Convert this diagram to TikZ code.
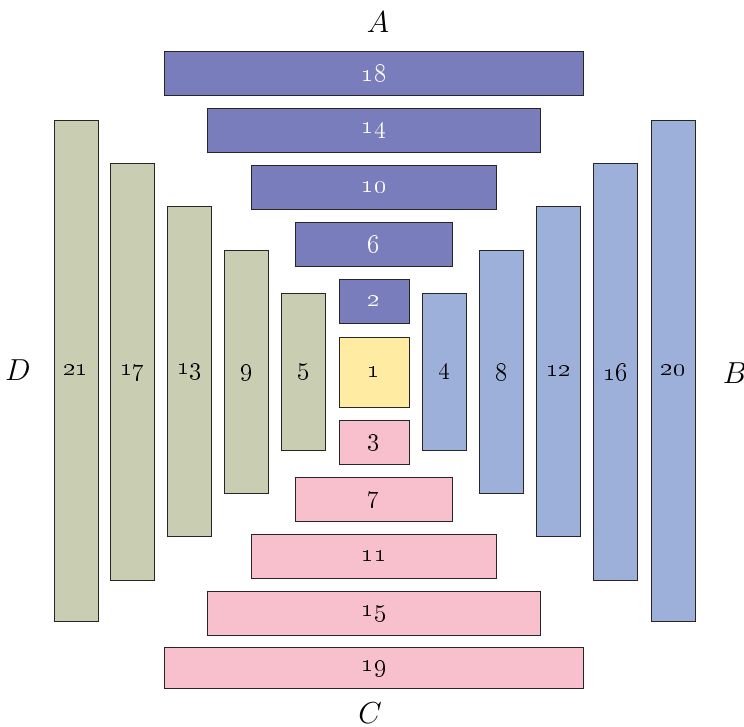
\documentclass[tikz,border=0pt]{standalone}
\usetikzlibrary{positioning}

\definecolor{topcol}{RGB}{122,125,188}
\definecolor{botcol}{RGB}{248,192,205}
\definecolor{rightcol}{RGB}{156,176,218}
\definecolor{leftcol}{RGB}{201,206,178}
\definecolor{corecol}{RGB}{255,235,162}

\tikzset{
  blk/.style = {draw=black!85, line width=0.5pt, inner sep=0pt, outer sep=0pt,
                font=\fontsize{15.5}{18}\selectfont},
  topbox/.style = {blk, fill=topcol, text=white, minimum height=0.88cm},
  botbox/.style = {blk, fill=botcol, minimum height=0.88cm},
  rightbox/.style = {blk, fill=rightcol, minimum width=0.88cm},
  leftbox/.style = {blk, fill=leftcol, minimum width=0.88cm},
  corebox/.style = {blk, fill=corecol, minimum width=1.4cm, minimum height=1.4cm},
  side/.style = {font=\fontsize{17}{20}\selectfont}
}

\begin{document}
\begin{tikzpicture}
    \useasboundingbox (0,0) rectangle (14.88,-14.54);

    % core
    \node (b1) [corebox] at (7.48,-7.44) {\oldstylenums{1}};

    % top row
    \node (b2)  [topbox, minimum width=1.4cm]  at (7.48,-6.03) {\oldstylenums{2}};
    \node (b6)  [topbox, minimum width=3.15cm] at (7.48,-4.89) {\oldstylenums{6}};
    \node (b10) [topbox, minimum width=4.9cm]  at (7.48,-3.75) {\oldstylenums{10}};
    \node (b14) [topbox, minimum width=6.65cm] at (7.48,-2.61) {\oldstylenums{14}};
    \node (b18) [topbox, minimum width=8.38cm] at (7.48,-1.47) {\oldstylenums{18}};

    % bottom row
    \node (b3)  [botbox, minimum width=1.4cm]  at (7.48,-8.85)  {\oldstylenums{3}};
    \node (b7)  [botbox, minimum width=3.15cm] at (7.48,-9.99)  {\oldstylenums{7}};
    \node (b11) [botbox, minimum width=4.9cm]  at (7.48,-11.13) {\oldstylenums{11}};
    \node (b15) [botbox, minimum width=6.65cm] at (7.48,-12.27) {\oldstylenums{15}};
    \node (b19) [botbox, minimum width=8.38cm, minimum height=0.82cm] at (7.48,-13.36) {\oldstylenums{19}};

    % right column
    \node (b4)  [rightbox, minimum height=3.14cm]  at (8.89,-7.43)  {\oldstylenums{4}};
    \node (b8)  [rightbox, minimum height=4.86cm]  at (10.03,-7.44) {\oldstylenums{8}};
    \node (b12) [rightbox, minimum height=6.6cm]   at (11.17,-7.43) {\oldstylenums{12}};
    \node (b16) [rightbox, minimum height=8.34cm]  at (12.31,-7.44) {\oldstylenums{16}};
    \node (b20) [rightbox, minimum height=10.02cm] at (13.46,-7.41) {\oldstylenums{20}};

    % left column
    \node (b5)  [leftbox, minimum height=3.14cm]  at (6.07,-7.43) {\oldstylenums{5}};
    \node (b9)  [leftbox, minimum height=4.86cm]  at (4.93,-7.44) {\oldstylenums{9}};
    \node (b13) [leftbox, minimum height=6.6cm]   at (3.79,-7.43) {\oldstylenums{13}};
    \node (b17) [leftbox, minimum height=8.34cm]  at (2.65,-7.44) {\oldstylenums{17}};
    \node (b21) [leftbox, minimum height=10.02cm] at (1.52,-7.41) {\oldstylenums{21}};

    % sides
    \node (sA) [side] at (7.56,-0.44)  {$A$};
    \node (sB) [side] at (14.7,-7.46)  {$B$};
    \node (sC) [side] at (7.4,-14.26)  {$C$};
    \node (sD) [side] at (0.36,-7.4)   {$D$};
\end{tikzpicture}
\end{document}
